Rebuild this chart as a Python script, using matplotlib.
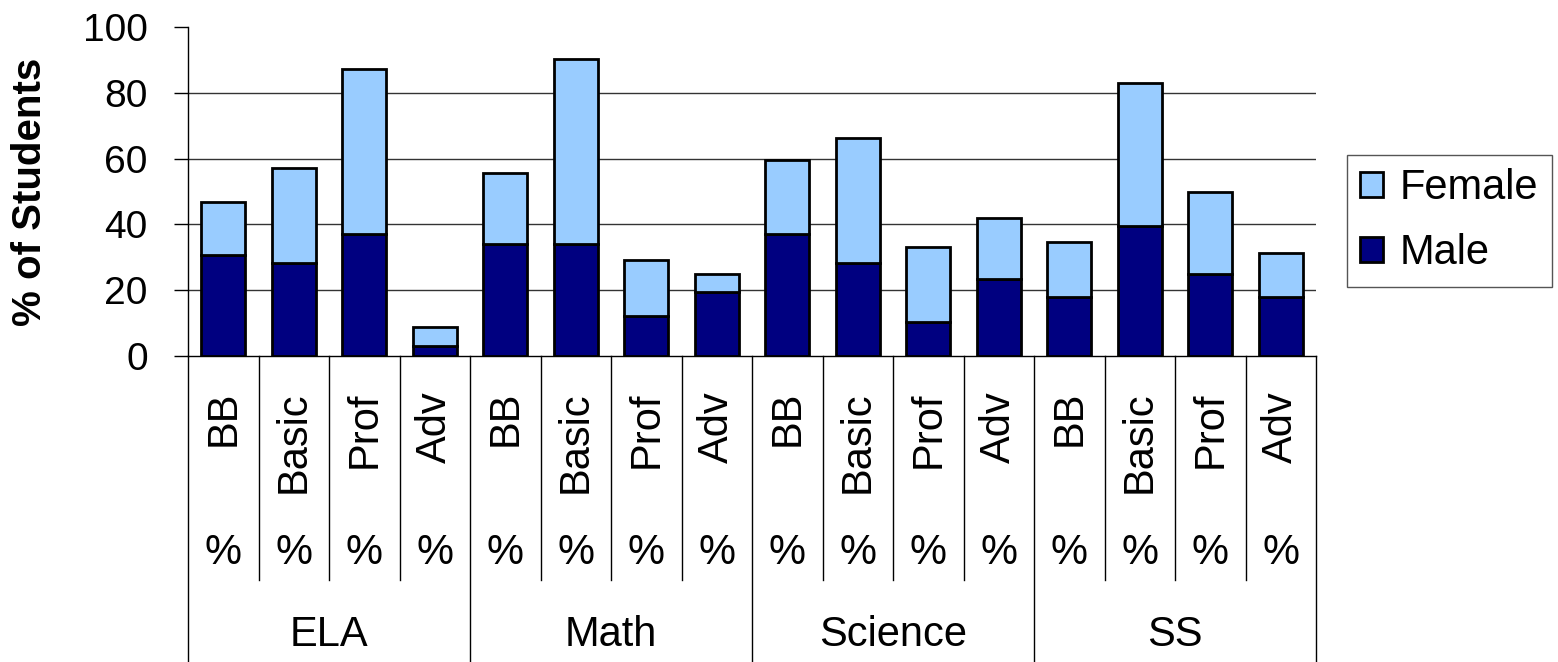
import matplotlib
matplotlib.use("Agg")
import matplotlib.pyplot as plt
from matplotlib.patches import Patch

plt.rcParams['font.family'] = ['Liberation Sans', 'DejaVu Sans']

subjects = ['ELA', 'Math', 'Science', 'SS']
levels = ['BB', 'Basic', 'Prof', 'Adv']

male = [30.6, 28.3, 37.1, 3.1,
        33.9, 33.9, 12.3, 19.5,
        37.1, 28.3, 10.4, 23.4,
        17.8, 39.6, 25.0, 17.8]
total = [46.8, 57.2, 87.1, 8.8,
         55.6, 90.4, 29.1, 24.9,
         59.6, 66.3, 33.0, 41.8,
         34.7, 83.1, 49.9, 31.3]
female = [t - m for t, m in zip(total, male)]

male_color = '#000080'
female_color = '#99CCFF'

fig = plt.figure(figsize=(15.58, 6.62), dpi=100)
ax = fig.add_axes([188/1558, 1 - 356/662, (1316 - 188)/1558, (356 - 27)/662])

x = list(range(len(male)))
ax.bar(x, male, width=0.62, color=male_color, edgecolor='black', linewidth=2, zorder=3)
ax.bar(x, female, width=0.62, bottom=male, color=female_color, edgecolor='black', linewidth=2, zorder=3)

ax.set_xlim(-0.5, len(male) - 0.5)
ax.set_ylim(0, 100)
ax.set_yticks([0, 20, 40, 60, 80, 100])
ax.tick_params(axis='y', labelsize=28, length=10, width=1, pad=19, direction='out')
ax.set_xticks([])
for y in [20, 40, 60, 80]:
    ax.axhline(y, color='#333333', linewidth=1, zorder=1)
for s in ['top', 'right']:
    ax.spines[s].set_visible(False)
ax.spines['left'].set_linewidth(1)
ax.spines['bottom'].set_linewidth(1)

# category label table under the axis
tr = ax.get_xaxis_transform()
h = 329.0
for k in range(len(male) + 1):
    bound = k - 0.5
    if k % 4 == 0:
        y_end = -(662 - 356) / h
    else:
        y_end = -(580 - 356) / h
    ax.plot([bound, bound], [0, y_end], color='black', linewidth=1,
            transform=tr, clip_on=False)

for i in x:
    lvl = levels[i % 4]
    ax.text(i, -(391 - 356) / h, lvl, rotation=90, ha='center', va='top',
            fontsize=30, transform=tr)
    ax.text(i, -(553 - 356) / h, '%', ha='center', va='center',
            fontsize=30, transform=tr)

for g, subj in enumerate(subjects):
    ax.text(g * 4 + 1.5, -(635 - 356) / h, subj, ha='center', va='center',
            fontsize=30, transform=tr)

fig.text(30/1558, 1 - 192/662, '% of Students', rotation=90, ha='center',
         va='center', fontsize=29, fontweight='bold')

handles = [Patch(facecolor=female_color, edgecolor='black', linewidth=2),
           Patch(facecolor=male_color, edgecolor='black', linewidth=2)]
leg = fig.legend(handles, ['Female', 'Male'], loc='upper left',
                 bbox_to_anchor=(1347/1558, 1 - 155/662), fontsize=30,
                 handlelength=0.55, handleheight=0.55, handletextpad=0.4,
                 labelspacing=0.6, borderpad=0.32, borderaxespad=0,
                 fancybox=False, framealpha=1, edgecolor='#555555')
leg.get_frame().set_linewidth(1)

fig.savefig('out.png', dpi=100)
